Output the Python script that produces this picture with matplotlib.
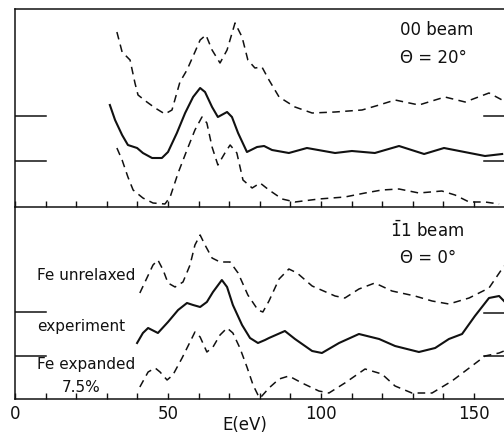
import numpy as np
import matplotlib
matplotlib.use("Agg")
from matplotlib import pyplot as plt

# ---- 00 beam, theta = 20 deg (upper panel) ----
e_top_unrel = [33.3, 35.0, 37.6, 39.2, 40.2, 43.1, 45.8, 49.0, 51.3, 53.9, 56.2, 58.8, 60.5, 62.4,
               64.4, 67.0, 69.3, 71.9, 74.2, 76.1, 78.4, 80.7, 83.0, 86.3, 91.5, 97.1, 104.6,
               113.4, 119.0, 124.2, 132.0, 140.5, 147.1, 154.9, 159.2]
i_top_unrel = [175, 155, 147, 124, 112, 105, 99, 93, 97, 125, 137, 155, 167, 172,
               157, 144, 157, 184, 170, 147, 139, 140, 127, 110, 100, 94, 95,
               97, 102, 107, 102, 110, 105, 114, 107]

e_top_exp = [31.0, 32.7, 35.0, 36.9, 39.9, 41.8, 44.8, 48.0, 50.0, 52.9, 55.6, 58.2, 60.5, 62.1,
             64.4, 66.3, 69.3, 70.9, 72.9, 75.8, 79.1, 81.4, 84.0, 89.5, 95.4, 104.6, 110.1,
             117.6, 125.5, 133.7, 140.2, 153.6, 159.2]
i_top_exp = [102, 87, 72, 62, 59, 54, 49, 49, 55, 74, 94, 110, 119, 115,
             100, 90, 95, 90, 74, 55, 60, 61, 57, 54, 59, 54, 56,
             54, 61, 53, 59, 51, 53]

e_top_expd = [33.3, 35.0, 36.9, 38.6, 41.8, 45.1, 49.0, 50.7, 53.3, 56.2, 58.8, 61.1, 62.7, 64.4,
              66.3, 68.6, 70.3, 72.5, 74.5, 77.5, 80.1, 83.0, 87.3, 91.5, 99.3, 107.8, 114.4,
              119.9, 125.5, 132.0, 139.5, 143.8, 148.4, 153.6, 158.2]
i_top_expd = [59, 47, 30, 17, 9, 4, 3, 10, 34, 57, 77, 90, 84, 60,
              42, 54, 62, 54, 27, 19, 24, 17, 8, 5, 8, 10, 14,
              17, 18, 14, 16, 12, 5, 5, 3]

# ---- -11 beam, theta = 0 deg (lower panel) ----
e_bot_unrel = [40.8, 43.1, 45.1, 46.7, 48.4, 50.0, 52.3, 54.9, 57.2, 58.8, 60.5, 62.1, 64.4, 67.0,
               70.3, 72.9, 76.1, 79.4, 81.0, 83.0, 86.3, 89.5, 92.2, 97.1, 104.6, 107.8, 112.4,
               117.6, 123.2, 130.7, 136.3, 141.8, 148.4, 154.9, 159.8]
i_bot_unrel = [106, 121, 134, 139, 129, 116, 112, 117, 134, 154, 164, 154, 141, 137,
               137, 126, 104, 89, 87, 98, 120, 130, 126, 113, 103, 101, 110,
               116, 108, 103, 98, 95, 101, 111, 133]

e_bot_exp = [39.9, 41.8, 43.5, 46.7, 50.0, 53.3, 56.2, 58.2, 60.5, 62.7, 64.7, 67.6, 69.3, 71.2,
             74.2, 76.8, 79.4, 81.7, 83.0, 88.2, 91.5, 97.1, 100.3, 105.9, 112.4, 119.0, 124.2,
             132.0, 137.3, 141.8, 146.1, 150.3, 154.9, 158.2, 159.8]
i_bot_exp = [56, 66, 71, 66, 77, 89, 96, 94, 92, 97, 107, 119, 112, 94,
             74, 61, 56, 59, 61, 68, 60, 48, 46, 56, 65, 60, 53,
             47, 51, 60, 65, 83, 101, 103, 98]

e_bot_expd = [40.8, 43.5, 45.8, 47.4, 49.7, 51.6, 54.6, 57.2, 58.8, 60.5, 62.7, 64.7, 67.0, 69.3,
              71.2, 73.5, 75.8, 77.8, 79.4, 80.1, 83.0, 86.3, 89.5, 93.8, 99.3, 102.6, 107.8,
              114.4, 119.9, 124.2, 129.7, 136.3, 142.8, 149.3, 153.6, 158.2, 159.8]
i_bot_expd = [12, 27, 31, 27, 19, 24, 41, 57, 67, 62, 47, 52, 64, 71,
              66, 51, 32, 14, 4, 1, 11, 20, 23, 16, 8, 6, 16,
              30, 25, 13, 6, 6, 18, 33, 43, 46, 48]

# reference level marks at the edges
top_ref_levels = [91, 46]
bot_ref_left = [87, 43]
bot_ref_right = [86, 43]

major_ticks = [0, 50, 100, 150]
minor_ticks = list(range(10, 160, 10))

ink = "#111111"
solid_kw = dict(color=ink, lw=1.5, solid_joinstyle="round")
dash_kw = dict(color=ink, lw=1.1, dashes=(5, 3.5))

fig = plt.figure(figsize=(5.04, 4.33), dpi=100)
W, H = 504.0, 433.0
x0 = 15 / W
wid = 160 * 3.06 / W
ax1 = fig.add_axes([x0, 1 - 207 / H, wid, 198 / H])
ax2 = fig.add_axes([x0, 1 - 399 / H, wid, 192 / H])

for ax, ytop in ((ax1, 198), (ax2, 192)):
    ax.set_xlim(0, 160)
    ax.set_ylim(0, ytop)
    ax.set_yticks([])
    ax.spines["right"].set_visible(False)
    for s in ("left", "top", "bottom"):
        ax.spines[s].set_linewidth(1.1)
        ax.spines[s].set_color(ink)
    ax.set_xticks(major_ticks)
    ax.set_xticks(minor_ticks, minor=True)
    ax.tick_params(axis="x", which="both", direction="in", length=4.5, width=1.0,
                   color=ink, top=False)
    ax.patch.set_alpha(0)

ax2.spines["top"].set_visible(False)
ax1.tick_params(axis="x", which="both", labelbottom=False)
ax2.tick_params(axis="x", which="major", labelsize=12, pad=4, labelcolor=ink)

# upper panel curves
ax1.plot(e_top_unrel, i_top_unrel, **dash_kw)
ax1.plot(e_top_exp, i_top_exp, **solid_kw)
ax1.plot(e_top_expd, i_top_expd, **dash_kw)
for lv in top_ref_levels:
    ax1.plot([0, 10], [lv, lv], color=ink, lw=1.1)
    ax1.plot([153.3, 160], [lv, lv], color=ink, lw=1.1)

# lower panel curves
ax2.plot(e_bot_unrel, i_bot_unrel, **dash_kw)
ax2.plot(e_bot_exp, i_bot_exp, **solid_kw)
ax2.plot(e_bot_expd, i_bot_expd, **dash_kw)
for lv in bot_ref_left:
    ax2.plot([0, 10], [lv, lv], color=ink, lw=1.1)
for lv in bot_ref_right:
    ax2.plot([153.3, 160], [lv, lv], color=ink, lw=1.1)

# labels
ax1.text(125.8, 177, "00 beam", fontsize=12, ha="left", va="center", color=ink)
ax1.text(125.8, 149, "\u0398 = 20\u00b0", fontsize=12, ha="left", va="center", color=ink)
ax2.text(122.5, 168, r"$\bar{1}$1 beam", fontsize=12, ha="left", va="center", color=ink)
ax2.text(125.8, 141, "\u0398 = 0\u00b0", fontsize=12, ha="left", va="center", color=ink)
ax2.text(7.2, 123, "Fe unrelaxed", fontsize=11, ha="left", va="center", color=ink)
ax2.text(7.2, 73, "experiment", fontsize=11, ha="left", va="center", color=ink)
ax2.text(7.2, 35, "Fe expanded", fontsize=11, ha="left", va="center", color=ink)
ax2.text(21.6, 11, "7.5%", fontsize=11, ha="center", va="center", color=ink)
ax2.text(75, -26, "E(eV)", fontsize=12, ha="center", va="center", color=ink)

fig.savefig("out.png", dpi=100)
